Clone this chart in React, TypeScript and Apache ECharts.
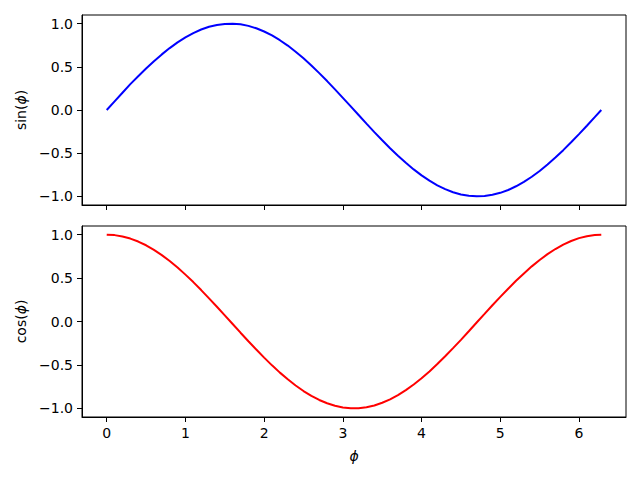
import React, { useEffect, useRef } from "react";
import * as echarts from "echarts";

const phi = [0, 0.1, 0.2, 0.3, 0.4, 0.5, 0.6, 0.7, 0.8, 0.9, 1.0, 1.1, 1.2, 1.3, 1.4, 1.5, 1.6, 1.7, 1.8, 1.9, 2.0, 2.1, 2.2, 2.3, 2.4, 2.5, 2.6, 2.7, 2.8, 2.9, 3.0, 3.1, 3.2, 3.3, 3.4, 3.5, 3.6, 3.7, 3.8, 3.9, 4.0, 4.1, 4.2, 4.3, 4.4, 4.5, 4.6, 4.7, 4.8, 4.9, 5.0, 5.1, 5.2, 5.3, 5.4, 5.5, 5.6, 5.7, 5.8, 5.9, 6.0, 6.1, 6.2, 6.283];
const sinValues = [0.0, 0.1, 0.2, 0.3, 0.39, 0.48, 0.565, 0.644, 0.717, 0.783, 0.841, 0.891, 0.932, 0.964, 0.985, 0.997, 1.0, 0.992, 0.974, 0.946, 0.909, 0.863, 0.808, 0.746, 0.675, 0.598, 0.516, 0.427, 0.335, 0.239, 0.141, 0.042, -0.058, -0.158, -0.256, -0.351, -0.443, -0.53, -0.612, -0.688, -0.757, -0.818, -0.872, -0.916, -0.952, -0.978, -0.994, -1.0, -0.996, -0.982, -0.959, -0.926, -0.883, -0.832, -0.773, -0.706, -0.631, -0.551, -0.465, -0.374, -0.279, -0.182, -0.083, 0.0];
const cosValues = [1.0, 0.995, 0.98, 0.955, 0.921, 0.878, 0.825, 0.765, 0.697, 0.622, 0.54, 0.454, 0.362, 0.267, 0.17, 0.071, -0.029, -0.129, -0.227, -0.323, -0.416, -0.505, -0.589, -0.666, -0.737, -0.801, -0.857, -0.904, -0.942, -0.971, -0.99, -0.999, -0.998, -0.987, -0.967, -0.936, -0.897, -0.848, -0.791, -0.726, -0.654, -0.575, -0.49, -0.401, -0.307, -0.211, -0.112, -0.012, 0.087, 0.187, 0.284, 0.378, 0.469, 0.554, 0.635, 0.709, 0.776, 0.835, 0.886, 0.927, 0.96, 0.983, 0.997, 1.0];
const xTicks = [0, 1, 2, 3, 4, 5, 6];
const yTicks = [-1.0, -0.5, 0.0, 0.5, 1.0];

const FONT = "DejaVu Sans";

const fmtY = (v: number) => v.toFixed(1).replace("-", "\u2212");

export default function App() {
  const ref = useRef<HTMLDivElement>(null);
  useEffect(() => {
    if (!ref.current) return;
    const chart = echarts.init(ref.current, undefined, { renderer: "svg" });
    const xBase = (gridIndex: number, showLabels: boolean) => ({
      type: "value" as const,
      gridIndex,
      min: -0.314,
      max: 6.597,
      splitLine: { show: false },
      axisLine: { show: true, onZero: false, lineStyle: { color: "#000", width: 1 } },
      axisTick: {
        show: true,
        inside: false,
        length: 5,
        customValues: xTicks,
        lineStyle: { color: "#000", width: 1 },
      },
      axisLabel: {
        show: showLabels,
        customValues: xTicks,
        margin: 9,
        color: "#000",
        fontFamily: FONT,
        fontSize: 14,
        formatter: (v: number) => String(Math.round(v)),
      },
    });
    const yBase = (gridIndex: number, fn: string) => ({
      type: "value" as const,
      gridIndex,
      min: -1.1,
      max: 1.1,
      splitLine: { show: false },
      axisLine: { show: true, onZero: false, lineStyle: { color: "#000", width: 1 } },
      axisTick: {
        show: true,
        inside: false,
        length: 5,
        customValues: yTicks,
        lineStyle: { color: "#000", width: 1 },
      },
      axisLabel: {
        customValues: yTicks,
        margin: 9,
        color: "#000",
        fontFamily: FONT,
        fontSize: 14,
        formatter: fmtY,
      },
      name: `{n|${fn}(}{p|ϕ}{n|)}`,
      nameLocation: "middle" as const,
      nameGap: 52,
      nameRotate: 90,
      nameTextStyle: {
        rich: {
          n: { fontFamily: FONT, fontSize: 14, color: "#000" },
          p: { fontFamily: FONT, fontSize: 14, fontStyle: "italic", color: "#000" },
        },
      },
    });
    const xBottom: any = xBase(1, true);
    xBottom.name = "ϕ";
    xBottom.nameLocation = "middle";
    xBottom.nameGap = 32;
    xBottom.nameTextStyle = { fontFamily: FONT, fontSize: 14, fontStyle: "italic", color: "#000" };
    chart.setOption({
      animation: false,
      backgroundColor: "#fff",
      grid: [
        { left: 82, width: 544, top: 15, height: 190, show: true, borderColor: "#000", borderWidth: 1, backgroundColor: "#fff" },
        { left: 82, width: 544, top: 226, height: 191, show: true, borderColor: "#000", borderWidth: 1, backgroundColor: "#fff" },
      ],
      xAxis: [xBase(0, false), xBottom],
      yAxis: [yBase(0, "sin"), yBase(1, "cos")],
      series: [
        {
          type: "line",
          xAxisIndex: 0,
          yAxisIndex: 0,
          data: phi.map((x, i) => [x, sinValues[i]]),
          showSymbol: false,
          lineStyle: { color: "#0000ff", width: 2 },
          itemStyle: { color: "#0000ff" },
        },
        {
          type: "line",
          xAxisIndex: 1,
          yAxisIndex: 1,
          data: phi.map((x, i) => [x, cosValues[i]]),
          showSymbol: false,
          lineStyle: { color: "#ff0000", width: 2 },
          itemStyle: { color: "#ff0000" },
        },
      ],
    });
    return () => chart.dispose();
  }, []);
  return <div ref={ref} style={{ position: "fixed", left: 0, top: 0, width: 640, height: 480 }} />;
}
